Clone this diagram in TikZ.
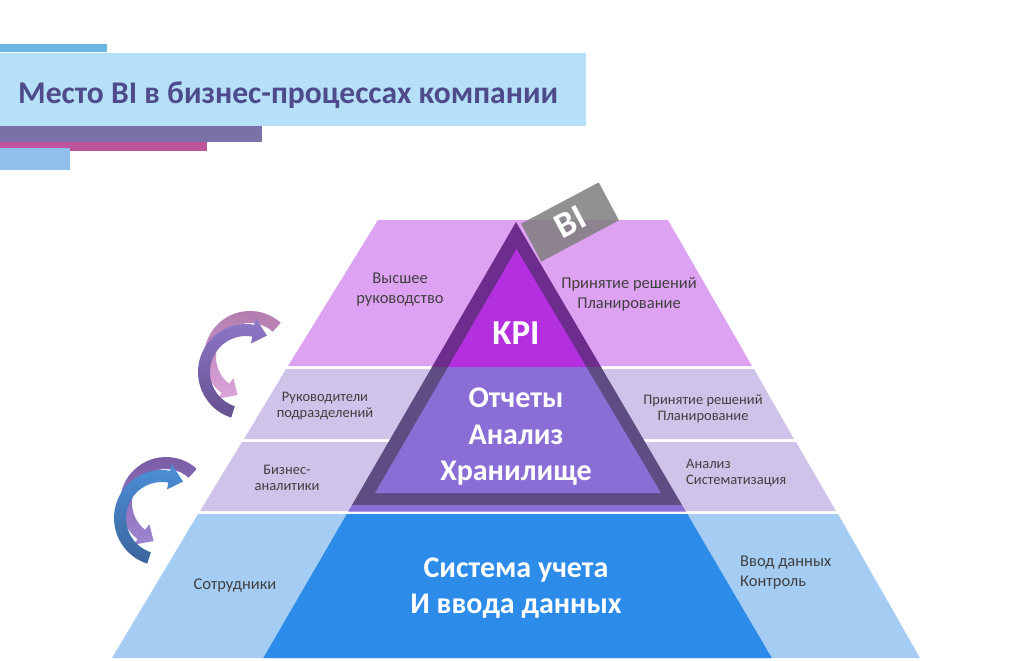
\documentclass[tikz,border=0pt]{standalone}
\usepackage{fontspec}
\setmainfont{Carlito}
\usetikzlibrary{calc}
\definecolor{hdrtop}{HTML}{6CB6E4}
\definecolor{hdrbar}{HTML}{B5E0F7}
\definecolor{hdrviolet}{HTML}{7B70A8}
\definecolor{hdrpink}{HTML}{BE549C}
\definecolor{hdrlow}{HTML}{8FBFEA}
\definecolor{titlecol}{HTML}{4E4A8C}
\definecolor{topband}{HTML}{DEA2F2}
\definecolor{midband}{HTML}{CFC3E9}
\definecolor{lowband}{HTML}{A5CDF4}
\definecolor{bluecore}{HTML}{2D8BEA}
\definecolor{frameup}{HTML}{6C2D8C}
\definecolor{framelow}{HTML}{5D4D82}
\definecolor{kpicol}{HTML}{B42FE0}
\definecolor{innerlow}{HTML}{8B6DD6}
\definecolor{txtgray}{HTML}{404040}
\definecolor{tagcol}{HTML}{7E7E7E}
\definecolor{mauveA}{HTML}{B07AAD}
\definecolor{pinkA}{HTML}{DCA5DA}
\definecolor{purpB1}{HTML}{66508F}
\definecolor{purpB2}{HTML}{8E78C8}
\definecolor{purpC1}{HTML}{775AA2}
\definecolor{purpC2}{HTML}{A086D2}
\definecolor{blueD1}{HTML}{3B649C}
\definecolor{blueD2}{HTML}{4C90D8}
\tikzset{
  bandtxt/.style={text=txtgray, align=center, font=\fontsize{16.5}{20}\selectfont, inner sep=0pt},
  smalltxt/.style={text=txtgray, align=center, font=\fontsize{14.5}{16.5}\selectfont, inner sep=0pt},
  leftsmall/.style={smalltxt, align=left},
  bigwhite/.style={text=white, align=center, font=\fontsize{30}{36.5}\selectfont\bfseries, inner sep=0pt},
  bitagstyle/.style={fill=tagcol, fill opacity=0.85, text opacity=1, text=white,
     minimum width=88pt, minimum height=43pt, inner sep=0pt,
     font=\fontsize{36}{36}\selectfont\bfseries},
}
\begin{document}
\begin{tikzpicture}[x=1pt,y=-1pt]
\useasboundingbox (0,0) rectangle (1023,661);
% header
\fill[hdrtop] (0,44) rectangle (107,52);
\fill[hdrbar] (0,53) rectangle (586,126);
\fill[hdrviolet] (0,126) rectangle (262,142);
\fill[hdrpink] (0,142) rectangle (207,151);
\fill[hdrlow] (0,148) rectangle (70,170);
\node[anchor=base west, text=titlecol, font=\fontsize{31.6}{31.6}\selectfont\bfseries, inner sep=0pt] (title) at (18,103) {Место BI в бизнес-процессах компании};
% bands
\fill[topband] (378,220) -- (668,220) -- (752,366) -- (288,366) -- cycle;
\fill[midband] (286,369) -- (754,369) -- (794,439) -- (244,439) -- cycle;
\fill[midband] (242,442) -- (796,442) -- (836,511) -- (200,511) -- cycle;
\fill[lowband] (198,514) -- (838,514) -- (920,658) -- (112,658) -- cycle;
\fill[bluecore] (346.8,514) -- (687.3,514) -- (771.8,658) -- (263.3,658) -- cycle;
% BI tag
\node[bitagstyle, rotate=28] (bitag) at (570,222) {BI};
% triangle
\begin{scope}
\clip (0,0) rectangle (1023,367);
\fill[frameup] (516,222) -- (352,505) -- (682,505) -- cycle;
\fill[kpicol] (516.5,249) -- (375,493) -- (661,493) -- cycle;
\end{scope}
\begin{scope}
\clip (0,367) rectangle (1023,661);
\fill[framelow] (516,222) -- (352,505) -- (682,505) -- cycle;
\fill[innerlow] (516.5,249) -- (375,493) -- (661,493) -- cycle;
\end{scope}
\fill[innerlow] (352,505) -- (682,505) -- (685.8,511.5) -- (348.2,511.5) -- cycle;
% texts
\node[bandtxt] (t1l) at (400,290) {Высшее\\руководство};
\node[bandtxt] (t1r) at (629,294) {Принятие решений\\Планирование};
\node[bigwhite, font=\fontsize{35}{35}\selectfont\bfseries] (kpi) at (516,333) {KPI};
\node[smalltxt] (t2l) at (325,406) {Руководители\\подразделений};
\node[smalltxt] (t2r) at (703,409) {Принятие решений\\Планирование};
\node[smalltxt] (t3l) at (287,478) {Бизнес-\\аналитики};
\node[leftsmall, anchor=west] (t3r) at (686,473) {Анализ\\Систематизация};
\node[bigwhite] (core2) at (516,437) {Отчеты\\Анализ\\Хранилище};
\node[bandtxt] (t4l) at (235,585) {Сотрудники};
\node[bandtxt, align=left, anchor=west] (t4r) at (740,573) {Ввод данных\\Контроль};
\node[bigwhite] (core1) at (516,588) {Система учета\\И ввода данных};
% circular arrows, upper group
\coordinate (ca) at (250,357);
\coordinate (cb) at (246,372);
\shade[top color=mauveA, bottom color=pinkA]
  ($(ca)+(48:46pt)$) arc[start angle=48,end angle=232,radius=46pt]
  -- ($(ca)+(232:53pt)$) -- ($(ca)+(252:40pt)$) -- ($(ca)+(232:27pt)$)
  -- ($(ca)+(232:34pt)$) arc[start angle=232,end angle=48,radius=34pt] -- cycle;
\shade[bottom color=purpB1, top color=purpB2]
  ($(cb)+(252:48pt)$) arc[start angle=252,end angle=80,radius=48pt]
  -- ($(cb)+(80:55pt)$) -- ($(cb)+(60:42pt)$) -- ($(cb)+(80:29pt)$)
  -- ($(cb)+(80:36pt)$) arc[start angle=80,end angle=252,radius=36pt] -- cycle;
% lower group
\begin{scope}[shift={(-84,146)}]
\coordinate (cc) at (250,357);
\coordinate (cd) at (246,372);
\shade[top color=purpC1, bottom color=purpC2]
  ($(cc)+(48:46pt)$) arc[start angle=48,end angle=232,radius=46pt]
  -- ($(cc)+(232:53pt)$) -- ($(cc)+(252:40pt)$) -- ($(cc)+(232:27pt)$)
  -- ($(cc)+(232:34pt)$) arc[start angle=232,end angle=48,radius=34pt] -- cycle;
\shade[bottom color=blueD1, top color=blueD2]
  ($(cd)+(252:48pt)$) arc[start angle=252,end angle=80,radius=48pt]
  -- ($(cd)+(80:55pt)$) -- ($(cd)+(60:42pt)$) -- ($(cd)+(80:29pt)$)
  -- ($(cd)+(80:36pt)$) arc[start angle=80,end angle=252,radius=36pt] -- cycle;
\end{scope}
\end{tikzpicture}
\end{document}
